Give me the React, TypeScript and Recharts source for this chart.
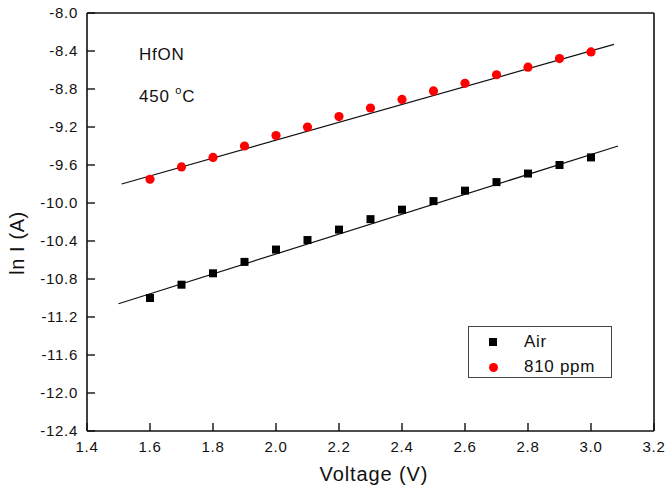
import React from 'react';
import { ScatterChart, Scatter, XAxis, YAxis, Legend } from 'recharts';

const voltages = [1.6, 1.7, 1.8, 1.9, 2.0, 2.1, 2.2, 2.3, 2.4, 2.5, 2.6, 2.7, 2.8, 2.9, 3.0];
const airValues = [-11.0, -10.86, -10.74, -10.62, -10.49, -10.39, -10.28, -10.17, -10.07, -9.98, -9.87, -9.78, -9.69, -9.6, -9.52];
const ppmValues = [-9.75, -9.62, -9.52, -9.4, -9.29, -9.2, -9.09, -9.0, -8.91, -8.82, -8.74, -8.65, -8.57, -8.48, -8.41];

const airFitX = [1.5, 3.086];
const airFitY = [-11.06, -9.4];
const ppmFitX = [1.51, 3.073];
const ppmFitY = [-9.8, -8.33];

const xMajorTicks = [1.4, 1.6, 1.8, 2.0, 2.2, 2.4, 2.6, 2.8, 3.0, 3.2];
const xMinorTicks = [1.4, 1.5, 1.6, 1.7, 1.8, 1.9, 2.0, 2.1, 2.2, 2.3, 2.4, 2.5, 2.6, 2.7, 2.8, 2.9, 3.0, 3.1, 3.2];
const yMajorTicks = [-12.4, -12.0, -11.6, -11.2, -10.8, -10.4, -10.0, -9.6, -9.2, -8.8, -8.4, -8.0];
const yMinorTicks = [-12.4, -12.2, -12.0, -11.8, -11.6, -11.4, -11.2, -11.0, -10.8, -10.6, -10.4, -10.2, -10.0, -9.8, -9.6, -9.4, -9.2, -9.0, -8.8, -8.6, -8.4, -8.2, -8.0];

const airData = voltages.map((v, i) => ({ x: v, y: airValues[i] }));
const ppmData = voltages.map((v, i) => ({ x: v, y: ppmValues[i] }));
const airFit = airFitX.map((v, i) => ({ x: v, y: airFitY[i] }));
const ppmFit = ppmFitX.map((v, i) => ({ x: v, y: ppmFitY[i] }));

const FONT = '"Liberation Sans", Arial, sans-serif';
const xDomain: [number, number] = [1.4, 3.2];
const yDomain: [number, number] = [-12.4, -8.0];

const Square = (props: any) => {
  const { cx, cy } = props;
  return <rect x={cx - 4} y={cy - 4} width={8} height={8} fill="#000" />;
};
const Dot = (props: any) => {
  const { cx, cy } = props;
  return <circle cx={cx} cy={cy} r={4.6} fill="#ff0000" />;
};
const NoShape = () => <g />;

const tickStyle = { fontFamily: FONT, fontSize: 15, fill: '#111', letterSpacing: 0.7 };
const axisLineStyle = { stroke: '#111', strokeWidth: 1.6 };
const tickLineStyle = { stroke: '#111', strokeWidth: 1.4 };

const LegendBox = () => (
  <div
    style={{
      position: 'relative',
      width: 144,
      height: 52,
      border: '1px solid #444',
      boxSizing: 'border-box',
      background: '#fff',
      fontFamily: FONT,
      fontSize: 17,
      letterSpacing: 0.7,
      color: '#111',
    }}
  >
    <div style={{ position: 'absolute', left: 20, top: 11, width: 8, height: 8, background: '#000' }} />
    <div style={{ position: 'absolute', left: 55, top: 5, lineHeight: '20px' }}>Air</div>
    <div style={{ position: 'absolute', left: 20, top: 36, width: 9, height: 9, borderRadius: '50%', background: '#ff0000' }} />
    <div style={{ position: 'absolute', left: 55, top: 30, lineHeight: '20px' }}>810 ppm</div>
  </div>
);

export default function App() {
  return (
    <div style={{ position: 'absolute', left: 0, top: 0, background: '#fff' }}>
      <ScatterChart width={666} height={487} margin={{ top: 13, right: 12, bottom: 26, left: 27 }}>
        <XAxis
          xAxisId="b"
          type="number"
          dataKey="x"
          domain={xDomain}
          allowDataOverflow
          ticks={xMajorTicks}
          interval={0}
          height={30}
          tickSize={-8}
          tickMargin={18}
          tickFormatter={(v: number) => v.toFixed(1)}
          tick={tickStyle}
          axisLine={axisLineStyle}
          tickLine={tickLineStyle}
        />
        <XAxis
          xAxisId="bm"
          type="number"
          domain={xDomain}
          allowDataOverflow
          ticks={xMinorTicks}
          interval={0}
          height={5}
          mirror
          tickSize={4}
          tick={false}
          axisLine={false}
          tickLine={tickLineStyle}
        />
        <XAxis
          xAxisId="t"
          orientation="top"
          type="number"
          domain={xDomain}
          allowDataOverflow
          ticks={xMinorTicks}
          interval={0}
          height={5}
          mirror
          tickSize={8}
          tick={false}
          axisLine={axisLineStyle}
          tickLine={tickLineStyle}
        />
        <YAxis
          yAxisId="l"
          type="number"
          dataKey="y"
          domain={yDomain}
          allowDataOverflow
          ticks={yMajorTicks}
          interval={0}
          width={60}
          tickSize={-8}
          tickMargin={17}
          tickFormatter={(v: number) => v.toFixed(1)}
          tick={tickStyle}
          axisLine={axisLineStyle}
          tickLine={tickLineStyle}
        />
        <YAxis
          yAxisId="lm"
          type="number"
          domain={yDomain}
          allowDataOverflow
          ticks={yMinorTicks}
          interval={0}
          width={5}
          mirror
          tickSize={4}
          tick={false}
          axisLine={false}
          tickLine={tickLineStyle}
        />
        <YAxis
          yAxisId="r"
          orientation="right"
          type="number"
          domain={yDomain}
          allowDataOverflow
          ticks={yMinorTicks}
          interval={0}
          width={5}
          mirror
          tickSize={8}
          tick={false}
          axisLine={axisLineStyle}
          tickLine={tickLineStyle}
        />
        <Scatter
          xAxisId="b"
          yAxisId="l"
          data={airFit}
          line={{ stroke: '#111', strokeWidth: 1.2 }}
          shape={NoShape}
          legendType="none"
          isAnimationActive={false}
        />
        <Scatter
          xAxisId="b"
          yAxisId="l"
          data={ppmFit}
          line={{ stroke: '#111', strokeWidth: 1.2 }}
          shape={NoShape}
          legendType="none"
          isAnimationActive={false}
        />
        <Scatter name="Air" xAxisId="b" yAxisId="l" data={airData} shape={Square} isAnimationActive={false} />
        <Scatter name="810 ppm" xAxisId="b" yAxisId="l" data={ppmData} shape={Dot} isAnimationActive={false} />
        <Legend
          content={LegendBox}
          layout="horizontal"
          align="center"
          verticalAlign="middle"
          wrapperStyle={{ position: 'absolute', left: 468, top: 326, width: 144, height: 52, bottom: 'auto', right: 'auto' }}
        />
        <text x={139} y={60} fontFamily={FONT} fontSize={17} letterSpacing={0.8} fill="#111">HfON</text>
        <text x={139} y={102} fontFamily={FONT} fontSize={17} letterSpacing={0.8} fill="#111">
          450 <tspan fontSize={11} dy={-8}>o</tspan><tspan dy={8}>C</tspan>
        </text>
        <text
          x={17}
          y={243}
          transform="rotate(-90 17 243)"
          textAnchor="middle"
          dominantBaseline="central"
          fontFamily={FONT}
          fontSize={20}
          letterSpacing={0.6}
          fill="#111"
        >
          ln I (A)
        </text>
        <text x={374} y={481} textAnchor="middle" fontFamily={FONT} fontSize={20} letterSpacing={0.9} fill="#111">
          Voltage (V)
        </text>
      </ScatterChart>
    </div>
  );
}
